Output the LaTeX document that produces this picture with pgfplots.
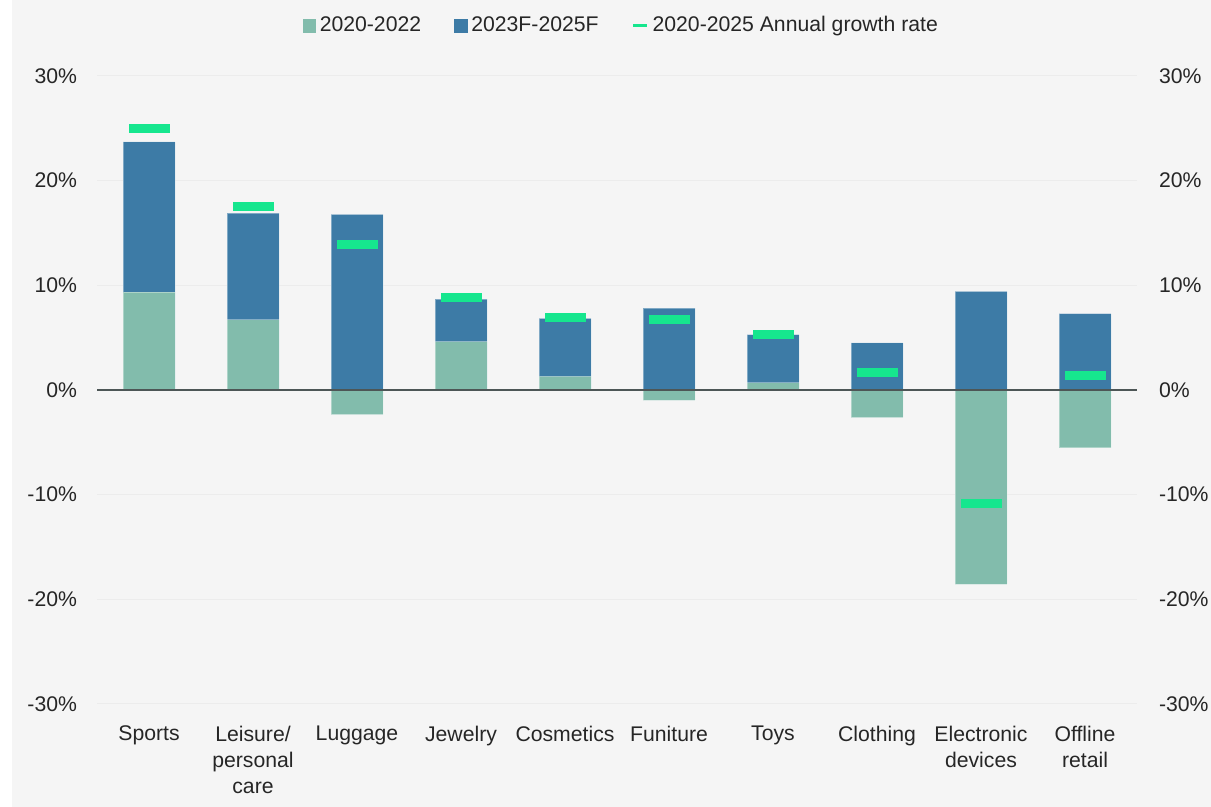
\documentclass[border=0pt]{standalone}
\usepackage{pgfplots}
\pgfplotsset{compat=1.18}
\usepackage{fontspec}
\setmainfont{Liberation Sans}
\definecolor{bggray}{HTML}{F5F5F5}
\definecolor{gbar}{HTML}{82BCAC}
\definecolor{bbar}{HTML}{3D7BA6}
\definecolor{gmark}{HTML}{16E68E}
\definecolor{zline}{HTML}{4D5656}
\definecolor{gridc}{HTML}{ECECEC}
\definecolor{txt}{HTML}{262626}
\begin{document}
\begin{tikzpicture}
\fill[white] (-48.5pt,-51.5pt) rectangle (557pt,352pt);
\fill[bggray] (-42.5pt,-51.5pt) rectangle (557pt,352pt);
\useasboundingbox (-48.5pt,-51.5pt) rectangle (557pt,352pt);
\pgfplotsset{
  common/.style={
    at={(0pt,0pt)}, anchor=south west,
    scale only axis, width=520pt, height=314pt,
    xmin=-0.5, xmax=9.5, ymin=-30, ymax=30,
    ytick={-30,-20,-10,0,10,20,30},
    yticklabels={-30\%,-20\%,-10\%,0\%,10\%,20\%,30\%},
    major tick length=0pt,
    axis line style={draw=none},
    tick label style={font=\fontsize{10.6}{13}\selectfont, text=txt},
  }
}
\begin{axis}[common,
  xtick={0,...,9},
  xticklabels={Sports,{Leisure/\\personal\\care},Luggage,Jewelry,Cosmetics,Funiture,Toys,Clothing,{Electronic\\devices},{Offline\\retail}},
  xticklabel style={align=center, yshift=-7.5pt},
  yticklabel style={xshift=-6.5pt},
  ymajorgrids, grid style={gridc, line width=0.5pt},
  legend style={at={(0.505,1.080)}, anchor=center, draw=none, fill=none,
    font=\fontsize{10.6}{12}\selectfont, text=txt, legend columns=-1,
    /tikz/every even column/.append style={column sep=14.5pt}},
]
\addplot[ybar, bar width=26pt, bar shift=0pt, fill=bbar, draw=white, draw opacity=0.35, line width=0.5pt, forget plot]
  coordinates {(0,23.7) (1,16.9) (2,16.78) (3,8.69) (4,6.85) (5,7.83) (6,5.28) (7,4.49) (8,9.43) (9,7.29)};
\addplot[ybar, bar width=26pt, bar shift=0pt, fill=gbar, draw=white, draw opacity=0.35, line width=0.5pt, forget plot]
  coordinates {(0,9.36) (1,6.69) (2,-2.36) (3,4.61) (4,1.31) (5,-0.99) (6,0.67) (7,-2.65) (8,-18.56) (9,-5.54)};
\draw[zline, line width=1pt] (axis cs:-0.5,0) -- (axis cs:9.5,0);
\addplot[only marks, mark=-, mark size=10.25pt, gmark, line width=4.5pt, forget plot]
  coordinates {(0,24.98) (1,17.53) (2,13.9) (3,8.83) (4,6.92) (5,6.73) (6,5.3) (7,1.67) (8,-10.84) (9,1.38)};
\addlegendimage{legend image code/.code={\fill[gbar] (0pt,-3.2pt) rectangle (6.2pt,3.2pt);}}
\addlegendentry{2020-2022}
\addlegendimage{legend image code/.code={\fill[bbar] (0pt,-3.2pt) rectangle (6.2pt,3.2pt);}}
\addlegendentry{2023F-2025F}
\addlegendimage{legend image code/.code={\draw[gmark, line width=1.5pt] (0pt,0pt) -- (7pt,0pt);}}
\addlegendentry{2020-2025 Annual growth rate}
\end{axis}
\begin{axis}[common,
  axis y line*=right,
  xtick=\empty,
  yticklabel pos=right,
  yticklabel style={xshift=7.5pt},
]
\addplot[draw=none, forget plot] coordinates {(0,0)};
\end{axis}
\end{tikzpicture}
\end{document}
